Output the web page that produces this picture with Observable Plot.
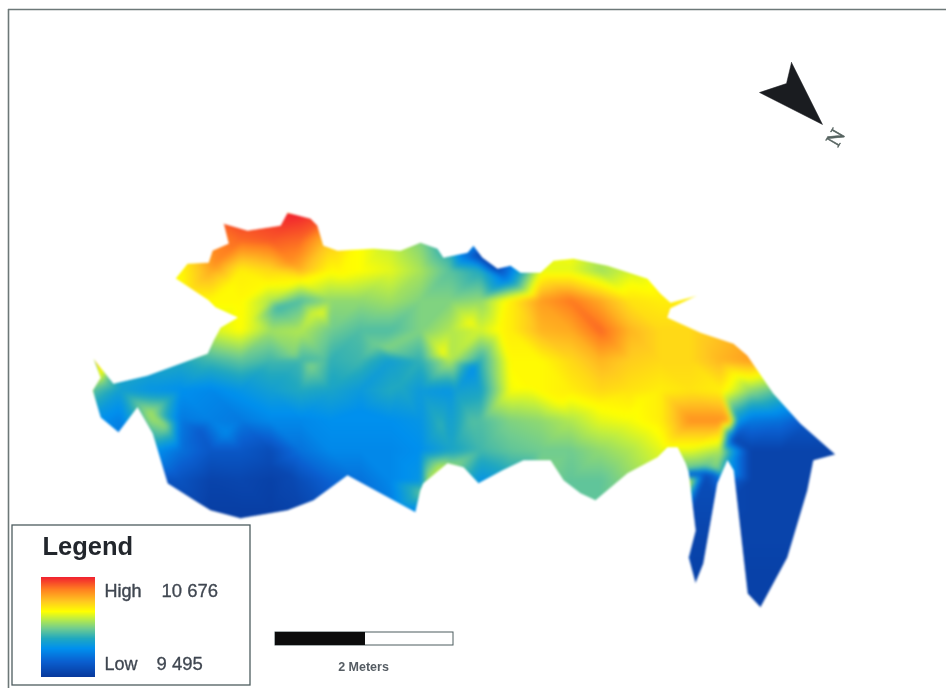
<!DOCTYPE html>
<html>
<head>
<meta charset="utf-8">
<script src="https://cdn.jsdelivr.net/npm/d3@7"></script>
<script src="https://cdn.jsdelivr.net/npm/@observablehq/plot@0.6"></script>
<style>html,body{margin:0;padding:0;background:#fff}</style>
</head>
<body>
<div id="chart"></div>
<script>
const colStops = [90,120,150,180,210,240,270,300,330,360,390,420,450,480,510,540,570,600,630,660,690,720,750,780,810,840];
const rowStops = [210,240,270,300,330,360,390,420,450,480,510,540,570,600];
const surfaceRows = [
[65,65,65,65,90,98,98,100,95,60,55,50,45,25,20,60,65,65,65,65,65,65,65,65,65,65],
[65,65,65,65,85,90,92,90,75,65,58,50,35,25,25,65,66,62,62,65,65,65,65,60,60,60],
[65,65,65,66,80,68,72,78,66,65,62,55,45,38,22,62,62,54,60,66,66,66,66,66,66,66],
[65,65,65,65,66,66,56,44,52,52,54,50,50,52,68,82,88,80,70,68,68,68,72,72,72,72],
[50,50,50,50,60,65,54,56,48,44,44,50,56,60,68,78,80,90,78,72,72,76,84,84,84,84],
[38,38,38,38,42,46,42,42,40,42,34,40,56,40,66,66,72,78,74,72,72,78,82,70,70,70],
[46,34,30,28,26,30,34,38,36,32,38,32,30,36,64,66,68,72,70,68,70,68,52,44,44,44],
[30,24,52,22,24,22,26,26,28,28,28,30,34,44,50,52,56,62,64,68,84,84,22,20,12,10],
[20,20,30,20,12,12,8,20,26,26,26,28,36,42,46,48,48,52,56,62,62,56,4,4,4,4],
[10,10,10,10,4,5,3,8,16,20,26,30,52,30,36,50,46,46,52,60,60,20,4,4,4,4],
[4,4,4,4,2,2,2,4,10,18,22,28,28,28,46,46,46,46,46,46,6,6,4,4,4,4],
[4,4,4,4,2,2,2,4,10,18,22,28,28,28,46,46,46,46,46,46,4,4,4,4,4,4],
[4,4,4,4,2,2,2,4,10,18,22,28,28,28,46,46,46,46,46,46,3,4,3,3,3,3],
[4,4,4,4,2,2,2,4,10,18,22,28,28,28,46,46,46,46,46,46,3,4,3,3,3,3]
];
// extra readings at sharp local features: [x, y, value]
const featureReadings = [
[97,362,78],[100,372,66],[104,382,48],
[478,255,5],[495,268,5],[505,278,22],[465,256,20],
[428,480,55],[440,468,58],[452,466,52],[425,492,48],
[150,413,55],[165,425,52],
[690,468,46],[705,466,46],[716,468,50],[690,474,6],[705,474,8],[716,475,14],
[728,420,82],[738,420,30],[733,440,6],
[230,285,66],[265,283,66],[300,279,67],[340,272,66],[290,262,84],[215,262,85],
[277,307,42],[312,313,60],[322,312,62],[250,320,62],
[295,355,50],[310,365,50],[325,360,44],[375,345,48],[385,348,50],[400,385,38],
[443,353,64],[473,367,28],[470,323,64],[500,330,66],
[360,410,28],[440,425,40],[470,420,44],[455,390,34],[420,300,50],
[225,433,26],[200,430,14],[270,465,6],[290,475,6],
[530,385,66],[560,400,66],[600,405,66],[640,400,66]
];
const outlineXs = [93,105,113,147,207,213,220,237,215,208,175,187,208,212,228,223,247,280,287,310,317,323,337,373,400,420,437,443,467,473,482,497,510,520,540,553,573,607,647,660,670,697,670,667,700,733,747,773,800,835,813,807,787,760,747,733,727,717,703,695,688,695,688,685,677,667,657,627,595,580,563,550,523,502,478,463,447,423,420,415,347,313,287,240,210,197,167,152,137,118,100,92,100];
const outlineYs = [358,373,383,375,353,340,327,317,307,300,278,263,262,250,243,223,230,225,212,218,225,245,250,248,250,242,248,257,252,245,257,268,265,272,272,260,258,265,278,293,302,295,308,317,332,343,355,393,423,454,460,490,557,607,593,470,460,483,563,583,557,530,472,463,447,447,457,473,500,493,480,460,460,470,483,467,463,483,490,512,475,500,510,518,510,502,483,433,407,432,417,390,377];
const pageXs = [-30,-30,976,976];
const pageYs = [-30,718,718,-30];
const colorStops = [0,15,28,38,48,58,65,75,87,100];
const colorRange = ["#083a9e","#0a5fd0","#0090ee","#20a8c0","#70cc90","#c0ee40","#ffff00","#ffc820","#ff8020","#f01c30"];
const arrowXs = [791,786,759,822];
const arrowYs = [62,83,92,124];

const samples = [];
rowStops.forEach((y,r)=>colStops.forEach((x,c)=>samples.push({x,y,v:surfaceRows[r][c]})));
featureReadings.forEach(([x,y,v])=>samples.push({x,y,v}));
const mask = pageXs.map((x,i)=>({x,y:pageYs[i]})).concat([{x:null,y:null}],outlineXs.map((x,i)=>({x,y:outlineYs[i]})));
const arrow = arrowXs.map((x,i)=>({x,y:arrowYs[i]}));
const ramp = d3.range(0,100).map(v=>({v}));
const font = "Liberation Sans, Arial, sans-serif";
const ink = "#3f4650";
const soft = "blur(0.5px)";

const plot = Plot.plot({
  width:946,height:688,margin:0,
  style:{background:"#fff",fontFamily:font},
  x:{domain:[0,946],range:[0,946],axis:null},
  y:{domain:[0,688],range:[0,688],axis:null},
  color:{type:"linear",domain:colorStops,range:colorRange,interpolate:"rgb"},
  marks:[
    Plot.raster(samples,{x:"x",y:"y",fill:"v",interpolate:"barycentric",blur:2,pixelSize:1,x1:0,x2:946,y1:0,y2:688}),
    Plot.line(mask,{x:"x",y:"y",fill:"#fff",stroke:"#fff",strokeWidth:0.5,imageFilter:"blur(1px)"}),
    // map frame
    Plot.ruleY([9],{x1:8,x2:946,stroke:"#6d7878",strokeWidth:1.6}),
    Plot.ruleX([8],{y1:9,y2:688,stroke:"#6d7878",strokeWidth:1.6}),
    // legend box
    Plot.rect([0],{x1:()=>12,x2:()=>250,y1:()=>525,y2:()=>685,fill:"#fff",stroke:"#4d5c5f",strokeWidth:1.3}),
    Plot.rect(ramp,{x1:()=>41,x2:()=>95,y1:d=>577+(100-d.v-1),y2:d=>577+(100-d.v),fill:"v",imageFilter:soft}),
    Plot.text(["Legend"],{x:()=>42,y:()=>546,text:d=>d,textAnchor:"start",fontSize:25.5,fontWeight:"bold",fill:"#22262c",imageFilter:soft}),
    Plot.text(["High"],{x:()=>104,y:()=>591,text:d=>d,textAnchor:"start",fontSize:18,fill:ink,stroke:ink,strokeWidth:0.4,imageFilter:soft}),
    Plot.text(["10 676"],{x:()=>161,y:()=>591,text:d=>d,textAnchor:"start",fontSize:18.5,fill:ink,stroke:ink,strokeWidth:0.3,imageFilter:soft}),
    Plot.text(["Low"],{x:()=>104,y:()=>664,text:d=>d,textAnchor:"start",fontSize:18,fill:ink,stroke:ink,strokeWidth:0.3,imageFilter:soft}),
    Plot.text(["9 495"],{x:()=>156,y:()=>664,text:d=>d,textAnchor:"start",fontSize:18.5,fill:ink,stroke:ink,strokeWidth:0.3,imageFilter:soft}),
    // scale bar
    Plot.rect([0],{x1:()=>275,x2:()=>453,y1:()=>632,y2:()=>645,fill:"#fff",stroke:"#4d5c5f",strokeWidth:1}),
    Plot.rect([0],{x1:()=>275,x2:()=>365,y1:()=>632,y2:()=>645,fill:"#0c0c0c"}),
    Plot.text(["2 Meters"],{x:()=>363,y:()=>666,text:d=>d,fontSize:12.5,fontWeight:"bold",fill:"#555c63",imageFilter:soft}),
    // north arrow
    Plot.line(arrow.concat(arrow[0]),{x:"x",y:"y",fill:"#1a1c20",stroke:"#1a1c20",strokeWidth:0.5,imageFilter:soft}),
    Plot.text(["N"],{x:()=>835,y:()=>137,text:d=>d,fontSize:22,fontFamily:"Liberation Serif",rotate:-60,fill:"#55625f",stroke:"#55625f",strokeWidth:0.5,imageFilter:soft})
  ]
});
document.getElementById("chart").append(plot);
</script>
</body>
</html>
